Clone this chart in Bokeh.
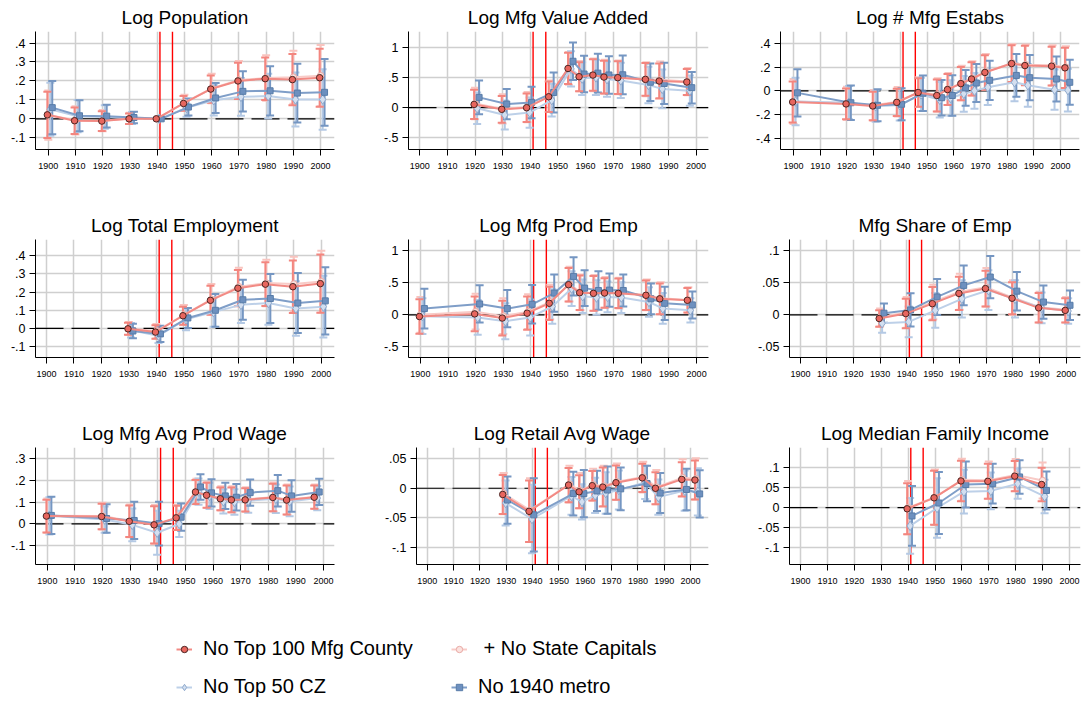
from bokeh.plotting import figure
from bokeh.models import (ColumnDataSource, Whisker, TeeHead, Span, FixedTicker,
                          CustomJSTickFormatter, Range1d, Legend, LegendItem)
from bokeh.layouts import column, row
from bokeh.embed import file_html
from bokeh.resources import INLINE

FONT = "Liberation Sans"

# ---------------- data ----------------
DECADES = [1900, 1910, 1920, 1930, 1940, 1950, 1960, 1970, 1980, 1990, 2000]

# Log Population
POP_YEARS = [1900, 1910, 1920, 1930, 1940, 1950, 1960, 1970, 1980, 1990, 2000]
POP_TOP100 = [0.021, -0.010, -0.012, 0.0, 0.0, 0.081, 0.157, 0.200, 0.212, 0.207, 0.217]
POP_TOP100_CI = [0.122, 0.070, 0.052, 0.028, 0.0, 0.039, 0.072, 0.096, 0.112, 0.135, 0.153]
POP_CAP = [0.020, -0.008, -0.010, 0.002, 0.0, 0.085, 0.160, 0.205, 0.215, 0.220, 0.228]
POP_CAP_CI = [0.130, 0.075, 0.056, 0.030, 0.0, 0.042, 0.078, 0.100, 0.120, 0.140, 0.162]
POP_CZ50 = [0.050, 0.014, 0.010, 0.004, 0.0, 0.058, 0.098, 0.116, 0.120, 0.102, 0.102]
POP_CZ50_CI = [0.140, 0.085, 0.062, 0.032, 0.0, 0.047, 0.080, 0.100, 0.118, 0.142, 0.160]
POP_METRO = [0.059, 0.016, 0.014, 0.007, 0.0, 0.062, 0.110, 0.145, 0.148, 0.136, 0.140]
POP_METRO_CI = [0.140, 0.082, 0.060, 0.030, 0.0, 0.045, 0.079, 0.106, 0.130, 0.155, 0.176]

# Log Mfg Value Added
VA_YEARS = [1920, 1930, 1939, 1947, 1954, 1958, 1963, 1967, 1972, 1982, 1987, 1997]
VA_TOP100 = [0.054, -0.027, 0.0, 0.18, 0.647, 0.511, 0.538, 0.505, 0.495, 0.467, 0.44, 0.424]
VA_TOP100_CI = [0.24, 0.22, 0.236, 0.25, 0.258, 0.24, 0.26, 0.27, 0.27, 0.27, 0.29, 0.215]
VA_CAP = [0.07, -0.02, 0.01, 0.19, 0.65, 0.52, 0.54, 0.51, 0.5, 0.47, 0.46, 0.43]
VA_CAP_CI = [0.26, 0.24, 0.25, 0.26, 0.27, 0.25, 0.27, 0.28, 0.28, 0.28, 0.30, 0.225]
VA_CZ50 = [-0.01, -0.12, -0.08, 0.125, 0.64, 0.48, 0.5, 0.47, 0.45, 0.375, 0.31, 0.28]
VA_CZ50_CI = [0.26, 0.24, 0.25, 0.27, 0.29, 0.27, 0.29, 0.29, 0.29, 0.3, 0.32, 0.25]
VA_METRO = [0.17, 0.06, 0.087, 0.25, 0.766, 0.555, 0.57, 0.54, 0.543, 0.42, 0.4, 0.33]
VA_METRO_CI = [0.28, 0.25, 0.26, 0.33, 0.31, 0.3, 0.32, 0.31, 0.32, 0.31, 0.34, 0.26]

# Log # Mfg Estabs
EST_YEARS = [1900, 1920, 1930, 1939, 1947, 1954, 1958, 1963, 1967, 1972, 1982, 1987, 1997, 2002]
EST_TOP100 = [-0.094, -0.11, -0.127, -0.097, -0.014, -0.039, 0.011, 0.061, 0.10, 0.155, 0.23, 0.213, 0.208, 0.194]
EST_TOP100_CI = [0.173, 0.13, 0.12, 0.115, 0.12, 0.135, 0.13, 0.14, 0.14, 0.145, 0.155, 0.166, 0.163, 0.17]
EST_CAP = [-0.09, -0.105, -0.122, -0.092, -0.01, -0.034, 0.016, 0.066, 0.105, 0.16, 0.235, 0.22, 0.215, 0.2]
EST_CAP_CI = [0.19, 0.14, 0.13, 0.125, 0.125, 0.14, 0.135, 0.145, 0.145, 0.15, 0.16, 0.17, 0.17, 0.175]
EST_CZ50 = [-0.09, -0.10, -0.13, -0.12, -0.03, -0.075, -0.06, -0.025, 0.0, 0.03, 0.072, 0.047, 0.01, 0.006]
EST_CZ50_CI = [0.2, 0.14, 0.13, 0.13, 0.14, 0.15, 0.15, 0.15, 0.15, 0.15, 0.16, 0.18, 0.17, 0.18]
EST_METRO = [-0.017, -0.10, -0.122, -0.113, -0.02, -0.058, -0.039, 0.025, 0.066, 0.089, 0.13, 0.111, 0.10, 0.072]
EST_METRO_CI = [0.2, 0.145, 0.135, 0.135, 0.15, 0.15, 0.17, 0.15, 0.16, 0.165, 0.18, 0.19, 0.19, 0.19]

# Log Total Employment
EMP_YEARS = [1930, 1940, 1950, 1960, 1970, 1980, 1990, 2000]
EMP_TOP100 = [-0.002, -0.02, 0.07, 0.155, 0.222, 0.244, 0.23, 0.247]
EMP_TOP100_CI = [0.033, 0.037, 0.05, 0.08, 0.1, 0.12, 0.145, 0.16]
EMP_CAP = [0.0, -0.015, 0.075, 0.16, 0.23, 0.25, 0.245, 0.258]
EMP_CAP_CI = [0.036, 0.04, 0.054, 0.085, 0.105, 0.128, 0.15, 0.17]
EMP_CZ50 = [-0.01, -0.04, 0.05, 0.09, 0.13, 0.14, 0.11, 0.12]
EMP_CZ50_CI = [0.04, 0.04, 0.06, 0.08, 0.1, 0.12, 0.15, 0.17]
EMP_METRO = [-0.014, -0.03, 0.058, 0.10, 0.158, 0.165, 0.14, 0.152]
EMP_METRO_CI = [0.04, 0.045, 0.055, 0.09, 0.11, 0.135, 0.165, 0.185]

# Log Mfg Prod Emp
PE_YEARS = [1900, 1920, 1930, 1939, 1947, 1954, 1958, 1963, 1967, 1972, 1982, 1987, 1997]
PE_TOP100 = [-0.026, 0.015, -0.05, 0.026, 0.18, 0.47, 0.345, 0.335, 0.34, 0.335, 0.305, 0.25, 0.227]
PE_TOP100_CI = [0.27, 0.27, 0.27, 0.26, 0.26, 0.26, 0.27, 0.27, 0.23, 0.23, 0.23, 0.24, 0.19]
PE_CAP = [0.0, 0.05, -0.02, 0.05, 0.2, 0.48, 0.35, 0.34, 0.35, 0.34, 0.31, 0.26, 0.23]
PE_CAP_CI = [0.28, 0.28, 0.28, 0.27, 0.27, 0.27, 0.28, 0.28, 0.24, 0.24, 0.24, 0.25, 0.2]
PE_CZ50 = [-0.02, -0.04, -0.10, -0.04, 0.13, 0.41, 0.29, 0.27, 0.28, 0.27, 0.20, 0.10, 0.07]
PE_CZ50_CI = [0.28, 0.27, 0.28, 0.28, 0.27, 0.27, 0.26, 0.27, 0.24, 0.24, 0.23, 0.24, 0.19]
PE_METRO = [0.098, 0.17, 0.098, 0.165, 0.34, 0.60, 0.417, 0.38, 0.386, 0.38, 0.25, 0.18, 0.155]
PE_METRO_CI = [0.31, 0.29, 0.29, 0.30, 0.29, 0.30, 0.28, 0.30, 0.26, 0.25, 0.24, 0.26, 0.21]

# Mfg Share of Emp
SH_YEARS = [1930, 1940, 1950, 1960, 1970, 1980, 1990, 2000]
SH_TOP100 = [-0.0057, 0.002, 0.0175, 0.0335, 0.041, 0.026, 0.011, 0.007]
SH_TOP100_CI = [0.013, 0.023, 0.026, 0.026, 0.028, 0.025, 0.023, 0.019]
SH_CAP = [-0.004, 0.004, 0.02, 0.036, 0.043, 0.027, 0.012, 0.008]
SH_CAP_CI = [0.014, 0.024, 0.027, 0.028, 0.03, 0.027, 0.024, 0.02]
SH_CZ50 = [-0.013, -0.011, 0.007, 0.025, 0.0385, 0.025, 0.011, 0.006]
SH_CZ50_CI = [0.015, 0.024, 0.027, 0.029, 0.031, 0.029, 0.024, 0.02]
SH_METRO = [0.0026, 0.0077, 0.028, 0.046, 0.059, 0.037, 0.02, 0.015]
SH_METRO_CI = [0.015, 0.026, 0.028, 0.031, 0.033, 0.03, 0.026, 0.023]

# Log Mfg Avg Prod Wage
PW_YEARS = [1900, 1920, 1930, 1939, 1947, 1954, 1958, 1963, 1967, 1972, 1982, 1987, 1997]
PW_TOP100 = [0.036, 0.034, 0.012, -0.004, 0.028, 0.146, 0.131, 0.115, 0.11, 0.11, 0.121, 0.109, 0.122]
PW_TOP100_CI = [0.075, 0.058, 0.072, 0.085, 0.055, 0.055, 0.057, 0.052, 0.057, 0.053, 0.063, 0.066, 0.053]
PW_CAP = [0.038, 0.036, 0.014, -0.002, 0.03, 0.148, 0.133, 0.117, 0.112, 0.112, 0.123, 0.111, 0.124]
PW_CAP_CI = [0.078, 0.061, 0.075, 0.088, 0.058, 0.058, 0.06, 0.055, 0.06, 0.056, 0.066, 0.069, 0.056]
PW_CZ50 = [0.037, 0.02, -0.004, -0.04, 0.0, 0.148, 0.128, 0.103, 0.1, 0.106, 0.115, 0.103, 0.118]
PW_CZ50_CI = [0.085, 0.06, 0.075, 0.1, 0.06, 0.06, 0.06, 0.055, 0.058, 0.055, 0.065, 0.068, 0.055]
PW_METRO = [0.039, 0.025, 0.016, 0.0015, 0.031, 0.169, 0.142, 0.128, 0.122, 0.143, 0.152, 0.128, 0.146]
PW_METRO_CI = [0.085, 0.065, 0.085, 0.1, 0.062, 0.058, 0.062, 0.06, 0.06, 0.06, 0.072, 0.072, 0.06]

# Log Retail Avg Wage
RW_YEARS = [1929, 1939, 1954, 1958, 1963, 1967, 1972, 1982, 1987, 1997, 2002]
RW_TOP100 = [-0.0105, -0.039, 0.0055, -0.006, 0.0044, 0.002, 0.0094, 0.0177, 0.0, 0.015, 0.014]
RW_TOP100_CI = [0.033, 0.052, 0.029, 0.028, 0.025, 0.033, 0.029, 0.024, 0.027, 0.029, 0.033]
RW_CAP = [-0.009, -0.037, 0.007, -0.004, 0.006, 0.004, 0.011, 0.019, 0.002, 0.018, 0.016]
RW_CAP_CI = [0.035, 0.054, 0.031, 0.03, 0.027, 0.034, 0.031, 0.026, 0.029, 0.031, 0.035]
RW_CZ50 = [-0.025, -0.052, -0.013, -0.023, -0.012, -0.008, -0.003, 0.01, -0.015, -0.004, -0.006]
RW_CZ50_CI = [0.038, 0.058, 0.032, 0.03, 0.03, 0.035, 0.033, 0.028, 0.03, 0.034, 0.04]
RW_METRO = [-0.02, -0.045, -0.009, -0.009, -0.0045, -0.003, -0.001, 0.008, -0.008, -0.002, -0.0095]
RW_METRO_CI = [0.04, 0.062, 0.037, 0.04, 0.034, 0.04, 0.036, 0.03, 0.034, 0.035, 0.04]

# Log Median Family Income
MI_YEARS = [1940, 1950, 1960, 1970, 1980, 1990]
MI_TOP100 = [-0.003, 0.0246, 0.067, 0.066, 0.079, 0.058]
MI_TOP100_CI = [0.064, 0.068, 0.051, 0.044, 0.038, 0.042]
MI_CAP = [0.0, 0.026, 0.07, 0.069, 0.082, 0.068]
MI_CAP_CI = [0.067, 0.07, 0.053, 0.047, 0.04, 0.045]
MI_CZ50 = [-0.046, -0.001, 0.04, 0.042, 0.06, 0.028]
MI_CZ50_CI = [0.07, 0.075, 0.055, 0.046, 0.038, 0.042]
MI_METRO = [-0.021, 0.0115, 0.058, 0.06, 0.077, 0.043]
MI_METRO_CI = [0.075, 0.078, 0.058, 0.05, 0.042, 0.048]

WAR_LINES = [1941, 1945.6]

SERIES_LABELS = {"top100": "No Top 100 Mfg County", "cap": " + No State Capitals",
                 "cz50": "No Top 50 CZ", "metro": "No 1940 metro"}

# ---------------- styles ----------------
STYLE = {
    "cap":    dict(dx=0.0,  line="#f8cbc7", bar="#f8c4bf", marker="circle", size=6.5,
                   fill="#fbe2df", edge="#e9aaa5"),
    "cz50":   dict(dx=0.75, line="#bdd0e8", bar="#b4c9e4", marker="diamond", size=9.5,
                   fill="#d3dff0", edge="#8ea9cc"),
    "metro":  dict(dx=1.45, line="#7f9ec8", bar="#7596c2", marker="square", size=6,
                   fill="#6d90bf", edge="#587ca8"),
    "top100": dict(dx=-0.35, line="#f28a84", bar="#f3867f", marker="circle", size=6.5,
                   fill="#e8665e", edge="#4a2624"),
}
DRAW_ORDER = ["cap", "cz50", "metro", "top100"]

PANELS = [
    dict(title="Log Population", years=POP_YEARS,
         data={"top100": (POP_TOP100, POP_TOP100_CI), "cap": (POP_CAP, POP_CAP_CI),
               "cz50": (POP_CZ50, POP_CZ50_CI), "metro": (POP_METRO, POP_METRO_CI)},
         xr=(1895.3, 2005.1), yr=(-0.162, 0.461), yt=[-0.1, 0, 0.1, 0.2, 0.3, 0.4], W=360, L=35, R=26),
    dict(title="Log Mfg Value Added", years=VA_YEARS,
         data={"top100": (VA_TOP100, VA_TOP100_CI), "cap": (VA_CAP, VA_CAP_CI),
               "cz50": (VA_CZ50, VA_CZ50_CI), "metro": (VA_METRO, VA_METRO_CI)},
         xr=(1895.9, 2004.5), yr=(-0.69, 1.257), yt=[-0.5, 0, 0.5, 1], W=360, L=48, R=12),
    dict(title="Log # Mfg Estabs", years=EST_YEARS,
         data={"top100": (EST_TOP100, EST_TOP100_CI), "cap": (EST_CAP, EST_CAP_CI),
               "cz50": (EST_CZ50, EST_CZ50_CI), "metro": (EST_METRO, EST_METRO_CI)},
         xr=(1895.1, 2007.1), yr=(-0.494, 0.5), yt=[-0.4, -0.2, 0, 0.2, 0.4], W=361, L=60, R=2),
    dict(title="Log Total Employment", years=EMP_YEARS,
         data={"top100": (EMP_TOP100, EMP_TOP100_CI), "cap": (EMP_CAP, EMP_CAP_CI),
               "cz50": (EMP_CZ50, EMP_CZ50_CI), "metro": (EMP_METRO, EMP_METRO_CI)},
         xr=(1896.0, 2004.8), yr=(-0.16, 0.49), yt=[-0.1, 0, 0.1, 0.2, 0.3, 0.4], W=360, L=35, R=26),
    dict(title="Log Mfg Prod Emp", years=PE_YEARS,
         data={"top100": (PE_TOP100, PE_TOP100_CI), "cap": (PE_CAP, PE_CAP_CI),
               "cz50": (PE_CZ50, PE_CZ50_CI), "metro": (PE_METRO, PE_METRO_CI)},
         xr=(1895.7, 2004.3), yr=(-0.665, 1.175), yt=[-0.5, 0, 0.5, 1], W=360, L=48, R=12),
    dict(title="Mfg Share of Emp", years=SH_YEARS,
         data={"top100": (SH_TOP100, SH_TOP100_CI), "cap": (SH_CAP, SH_CAP_CI),
               "cz50": (SH_CZ50, SH_CZ50_CI), "metro": (SH_METRO, SH_METRO_CI)},
         xr=(1895.9, 2005.4), yr=(-0.0665, 0.1176), yt=[-0.05, 0, 0.05, 0.1], W=361, L=69, R=1),
    dict(title="Log Mfg Avg Prod Wage", years=PW_YEARS,
         data={"top100": (PW_TOP100, PW_TOP100_CI), "cap": (PW_CAP, PW_CAP_CI),
               "cz50": (PW_CZ50, PW_CZ50_CI), "metro": (PW_METRO, PW_METRO_CI)},
         xr=(1895.7, 2004.0), yr=(-0.185, 0.349), yt=[-0.1, 0, 0.1, 0.2, 0.3], W=360, L=35, R=26),
    dict(title="Log Retail Avg Wage", years=RW_YEARS,
         data={"top100": (RW_TOP100, RW_TOP100_CI), "cap": (RW_CAP, RW_CAP_CI),
               "cz50": (RW_CZ50, RW_CZ50_CI), "metro": (RW_METRO, RW_METRO_CI)},
         xr=(1895.9, 2006.8), yr=(-0.129, 0.069), yt=[-0.1, -0.05, 0, 0.05], W=360, L=56, R=12),
    dict(title="Log Median Family Income", years=MI_YEARS,
         data={"top100": (MI_TOP100, MI_TOP100_CI), "cap": (MI_CAP, MI_CAP_CI),
               "cz50": (MI_CZ50, MI_CZ50_CI), "metro": (MI_METRO, MI_METRO_CI)},
         xr=(1895.9, 2004.1), yr=(-0.143, 0.151), yt=[-0.1, -0.05, 0, 0.05, 0.1], W=361, L=69, R=1),
]

# (figure height, top border, bottom border) per row
ROW_GEOM = [(208, 29, 59), (208, 29, 59), (184, 29, 36)]

YFMT = """
var s = tick.toString();
if (s.indexOf("-0.") === 0) return "-" + s.slice(2);
if (s.indexOf("0.") === 0) return s.slice(1);
return s;
"""


def make_panel(cfg, height, top, bottom):
    p = figure(width=cfg["W"], height=height, output_backend="svg", toolbar_location=None,
               x_range=Range1d(*cfg["xr"]), y_range=Range1d(*cfg["yr"]),
               min_border_left=cfg["L"], min_border_right=cfg["R"],
               min_border_top=top, min_border_bottom=bottom, title=cfg["title"])
    p.title.align = "center"
    p.title.text_font = FONT
    p.title.text_font_size = "19px"
    p.title.text_font_style = "normal"
    p.title.text_color = "black"
    p.title.standoff = 8
    p.outline_line_color = None
    p.background_fill_color = "white"

    p.xaxis.ticker = FixedTicker(ticks=DECADES)
    p.yaxis.ticker = FixedTicker(ticks=cfg["yt"])
    p.yaxis.formatter = CustomJSTickFormatter(code=YFMT)
    for ax in (p.xaxis[0], p.yaxis[0]):
        ax.axis_line_color = "black"
        ax.axis_line_width = 1
        ax.major_tick_line_color = "black"
        ax.major_tick_out = 6
        ax.major_tick_in = 0
        ax.minor_tick_line_color = None
        ax.major_label_text_font = FONT
        ax.major_label_text_color = "black"
    p.xaxis.major_label_text_font_size = "9px"
    p.xaxis.major_label_standoff = 7
    p.yaxis.major_label_text_font_size = "12.5px"
    p.yaxis.major_label_standoff = 4

    p.grid.grid_line_color = "#cfcfcf"
    p.grid.grid_line_width = 1.5

    p.add_layout(Span(location=0, dimension="width", line_color="black", line_width=1.2,
                      line_dash="28 8", level="underlay"))
    for wx in WAR_LINES:
        p.add_layout(Span(location=wx, dimension="height", line_color="#ff0000",
                          line_width=1.4, level="underlay"))

    years = cfg["years"]
    for key in DRAW_ORDER:
        st = STYLE[key]
        est, ci = cfg["data"][key]
        xs = [y + st["dx"] for y in years]
        wx = [x for x, c in zip(xs, ci) if c > 0]
        lo = [e - c for e, c in zip(est, ci) if c > 0]
        hi = [e + c for e, c in zip(est, ci) if c > 0]
        wsrc = ColumnDataSource(dict(x=wx, lo=lo, hi=hi))
        p.add_layout(Whisker(base="x", lower="lo", upper="hi", source=wsrc,
                             line_color=st["bar"], line_width=2, level="underlay",
                             upper_head=TeeHead(size=8, line_color=st["bar"], line_width=2),
                             lower_head=TeeHead(size=8, line_color=st["bar"], line_width=2)))
    for key in DRAW_ORDER:
        st = STYLE[key]
        est, ci = cfg["data"][key]
        xs = [y + st["dx"] for y in years]
        src = ColumnDataSource(dict(x=xs, y=est))
        p.line("x", "y", source=src, line_color=st["line"], line_width=2)
        p.scatter("x", "y", source=src, marker=st["marker"], size=st["size"],
                  fill_color=st["fill"], line_color=st["edge"], line_width=1)
    return p


rows = []
for r in range(3):
    h, t, b = ROW_GEOM[r]
    rows.append(row(*[make_panel(PANELS[3 * r + c], h, t, b) for c in range(3)]))

# ---------------- legend ----------------
lf = figure(width=1081, height=102, output_backend="svg", toolbar_location=None,
            x_range=Range1d(0, 1), y_range=Range1d(0, 1), min_border=0)
lf.axis.visible = False
lf.grid.visible = False
lf.outline_line_color = None
FIRST_POINT = {"top100": POP_TOP100[0], "cap": POP_CAP[0], "cz50": POP_CZ50[0], "metro": POP_METRO[0]}
items = {}
for key in DRAW_ORDER:
    st = STYLE[key]
    # one real data point, lying outside this legend-only figure's ranges
    src = ColumnDataSource(dict(x=POP_YEARS[:1], y=[FIRST_POINT[key]]))
    lr = lf.line("x", "y", source=src, line_color=st["line"], line_width=2)
    sr = lf.scatter("x", "y", source=src, marker=st["marker"], size=st["size"],
                    fill_color=st["fill"], line_color=st["edge"], line_width=1)
    items[key] = LegendItem(label=SERIES_LABELS[key], renderers=[lr, sr])

for keys, xpos in ((["top100", "cz50"], 176), (["cap", "metro"], 451)):
    leg = Legend(items=[items[k] for k in keys], location=(xpos, 4), orientation="vertical",
                 padding=0, margin=0, spacing=15, glyph_width=16, glyph_height=20,
                 label_height=20, label_standoff=11, label_text_font=FONT,
                 label_text_font_size="20px", label_text_color="black",
                 border_line_color=None, background_fill_alpha=0)
    lf.add_layout(leg)

layout = column(*rows, lf)
open("out.html", "w").write(file_html(layout, INLINE))
